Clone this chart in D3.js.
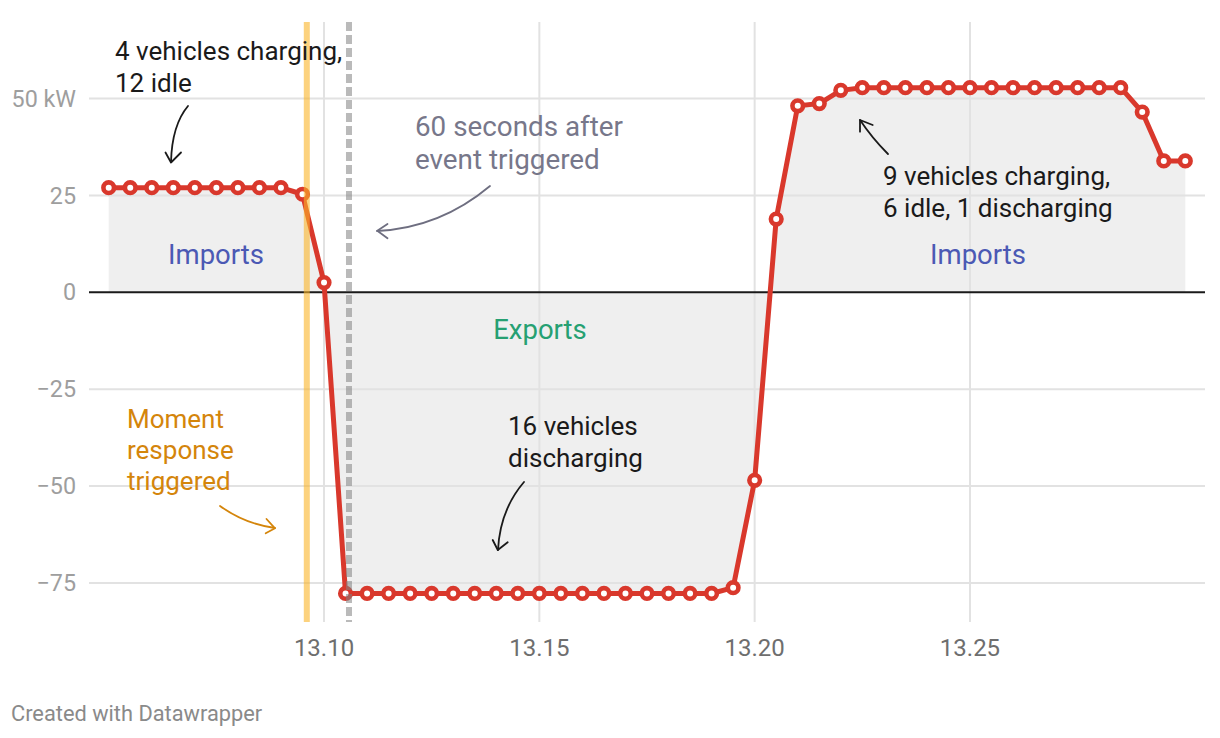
<!DOCTYPE html>
<html>
<head>
<meta charset="utf-8">
<script src="https://cdn.jsdelivr.net/npm/d3@7"></script>
<style>
  html, body { margin: 0; padding: 0; background: #fff; }
  svg { display: block; font-family: Roboto, "Noto Sans", sans-serif; }
</style>
</head>
<body>
<svg id="chart" width="1220" height="738"></svg>
<script>
// ---- data ----
const times = [
  13.050, 13.055, 13.060, 13.065, 13.070, 13.075, 13.080, 13.085, 13.090, 13.095,
  13.100, 13.105, 13.110, 13.115, 13.120, 13.125, 13.130, 13.135, 13.140, 13.145,
  13.150, 13.155, 13.160, 13.165, 13.170, 13.175, 13.180, 13.185, 13.190, 13.195,
  13.200, 13.205, 13.210, 13.215, 13.220, 13.225, 13.230, 13.235, 13.240, 13.245,
  13.250, 13.255, 13.260, 13.265, 13.270, 13.275, 13.280, 13.285, 13.290, 13.295,
  13.300
];
const power = [
  27, 27, 27, 27, 27, 27, 27, 27, 27, 25.3,
  2.5, -77.7, -77.7, -77.7, -77.7, -77.7, -77.7, -77.7, -77.7, -77.7,
  -77.7, -77.7, -77.7, -77.7, -77.7, -77.7, -77.7, -77.7, -77.7, -76.2,
  -48.5, 18.9, 48.1, 48.7, 52.1, 52.8, 52.8, 52.8, 52.8, 52.8,
  52.8, 52.8, 52.8, 52.8, 52.8, 52.8, 52.8, 52.8, 46.5, 33.9,
  33.9
];
const yTicks = [-75, -50, -25, 0, 25, 50];
const yTickLabels = ["\u221275", "\u221250", "\u221225", "0", "25", "50 kW"];
const xTicks = [13.10, 13.15, 13.20, 13.25];
const xTickLabels = ["13.10", "13.15", "13.20", "13.25"];
const responseTime = 13.096;   // "Moment response triggered"
const afterTime = 13.1058;     // "60 seconds after event triggered"

// ---- scales ----
const svg = d3.select("#chart");
const x = d3.scaleLinear().domain([13.05, 13.30]).range([108.7, 1185.3]);
const y = d3.scaleLinear().domain([-75, 50]).range([583, 98.5]);
const plotLeft = 89, plotRight = 1205, plotTop = 22, plotBottom = 622;

const data = times.map((t, i) => ({ t, v: power[i] }));

// area fill
svg.append("path")
  .datum(data)
  .attr("fill", "#efefef")
  .attr("d", d3.area().x(d => x(d.t)).y0(y(0)).y1(d => y(d.v)));

// gridlines
svg.append("g").selectAll("line").data(yTicks.filter(d => d !== 0)).join("line")
  .attr("x1", plotLeft).attr("x2", plotRight)
  .attr("y1", d => y(d)).attr("y2", d => y(d))
  .attr("stroke", "#e2e2e2").attr("stroke-width", 2);
svg.append("g").selectAll("line").data(xTicks).join("line")
  .attr("x1", d => x(d)).attr("x2", d => x(d))
  .attr("y1", plotTop).attr("y2", plotBottom)
  .attr("stroke", "#e2e2e2").attr("stroke-width", 2);

// zero line
svg.append("line")
  .attr("x1", plotLeft).attr("x2", plotRight)
  .attr("y1", y(0)).attr("y2", y(0))
  .attr("stroke", "#1a1a1a").attr("stroke-width", 2);

// y labels
svg.append("g").selectAll("text").data(yTicks).join("text")
  .attr("x", 76).attr("y", d => y(d)).attr("dy", "0.35em")
  .attr("text-anchor", "end").attr("font-size", 23.3).attr("fill", "#9e9e9e")
  .text((d, i) => yTickLabels[i]);

// x labels
svg.append("g").selectAll("text").data(xTicks).join("text")
  .attr("x", d => x(d)).attr("y", 656)
  .attr("text-anchor", "middle").attr("font-size", 24).attr("fill", "#6e6e6e")
  .text((d, i) => xTickLabels[i]);

// line
svg.append("path")
  .datum(data)
  .attr("fill", "none").attr("stroke", "#d9382c").attr("stroke-width", 5)
  .attr("stroke-linejoin", "round")
  .attr("d", d3.line().x(d => x(d.t)).y(d => y(d.v)));

// points
svg.append("g").selectAll("circle").data(data).join("circle")
  .attr("cx", d => x(d.t)).attr("cy", d => y(d.v)).attr("r", 5.3)
  .attr("fill", "#fff").attr("stroke", "#d9382c").attr("stroke-width", 4.6);

// event markers
svg.append("line")
  .attr("x1", x(responseTime)).attr("x2", x(responseTime))
  .attr("y1", plotTop).attr("y2", plotBottom)
  .attr("stroke", "rgba(250,180,40,0.6)").attr("stroke-width", 6);
svg.append("line")
  .attr("x1", x(afterTime)).attr("x2", x(afterTime))
  .attr("y1", plotTop).attr("y2", plotBottom)
  .attr("stroke", "rgba(130,130,130,0.55)").attr("stroke-width", 6)
  .attr("stroke-dasharray", "9,4");

// annotations text
function multiline(lines, xx, yy, lh, color, anchor, size) {
  const t = svg.append("text").attr("font-size", size).attr("fill", color)
    .attr("text-anchor", anchor || "start");
  lines.forEach((s, i) => t.append("tspan").attr("x", xx).attr("y", yy + i * lh).text(s));
  return t;
}
multiline(["4 vehicles charging,", "12 idle"], 115, 60, 32, "#1a1a1a", "start", 26);
multiline(["60 seconds after", "event triggered"], 415, 136, 33, "#77778a", "start", 27.8);
multiline(["Imports"], 216, 264, 32, "#4b59b4", "middle", 27.5);
multiline(["Imports"], 978, 264, 32, "#4b59b4", "middle", 27.5);
multiline(["Exports"], 540, 339, 32, "#26a072", "middle", 27.5);
multiline(["9 vehicles charging,", "6 idle, 1 discharging"], 883, 185, 32, "#1a1a1a", "start", 26);
multiline(["16 vehicles", "discharging"], 508, 435, 32, "#1a1a1a", "start", 26);
multiline(["Moment", "response", "triggered"], 127, 428, 31, "#d4850b", "start", 26);

// arrows
function arrow(d, head, color) {
  svg.append("path").attr("d", d).attr("fill", "none").attr("stroke", color)
    .attr("stroke-width", 1.8).attr("stroke-linecap", "round");
  svg.append("path").attr("d", head).attr("fill", "none").attr("stroke", color)
    .attr("stroke-width", 1.8).attr("stroke-linecap", "round").attr("stroke-linejoin", "round");
}
arrow("M188,106 Q172,125 171,162", "M165.5,152.5 L171,162.5 L181,152.5", "#1a1a1a");
arrow("M490,186 Q440,228 377,231", "M387.5,224 L377.3,230.8 L387.5,238.3", "#6e6e80");
arrow("M220,506 Q245,524 275,528", "M266.5,519 L275,528.3 L265.7,533.3", "#d4850b");
arrow("M524,482 Q500,510 498,550", "M492.7,540 L497.8,550 L507.7,542.3", "#1a1a1a");
arrow("M888,154 Q872,138 860,120", "M860,131.7 L860,120 L872.7,125", "#1a1a1a");

// footer
svg.append("text").attr("x", 11).attr("y", 721).attr("font-size", 21.8)
  .attr("fill", "#8a8a8a").text("Created with Datawrapper");
</script>
</body>
</html>
